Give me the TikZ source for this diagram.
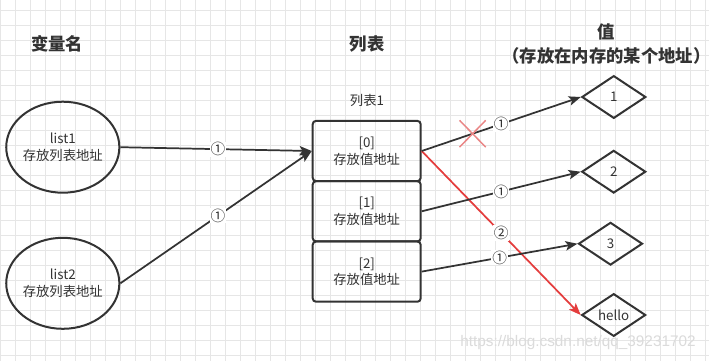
\documentclass[tikz,border=0pt]{standalone}
\usepackage{fontspec}
\setmainfont{Noto Sans CJK SC}
\newfontfamily\wmfont{Liberation Sans}
\usetikzlibrary{shapes.geometric,shapes.misc,arrows.meta}
\definecolor{ink}{HTML}{333333}
\definecolor{gridc}{HTML}{E6E6E6}
\definecolor{redl}{HTML}{E43D3D}
\definecolor{crossc}{HTML}{EA8585}
\begin{document}
\begin{tikzpicture}[x=0.75pt,y=-0.75pt,
  bodyfont/.style={font=\fontsize{10}{12.5}\selectfont,text=ink},
  varbox/.style={ellipse,draw=ink,line width=1.5pt,minimum width=81.75pt,minimum height=68.25pt,inner sep=0pt,align=center,bodyfont},
  cellbox/.style={rectangle,rounded corners=2.5pt,draw=ink,line width=1.5pt,minimum width=81pt,minimum height=45.2pt,inner sep=0pt,align=center,bodyfont},
  valbox/.style={diamond,draw=ink,line width=1.5pt,minimum width=48pt,minimum height=32pt,inner sep=0pt,bodyfont},
  link/.style={draw=ink,line width=1.3pt,-{Stealth[length=9pt,width=7pt,inset=2pt]}},
  redlink/.style={draw=redl,line width=1.3pt,-{Stealth[length=9pt,width=7pt,inset=2pt]}},
  num/.style={fill=white,inner sep=0.6pt,font=\fontsize{11}{12}\selectfont,text=ink},
  title/.style={font=\bfseries\fontsize{13}{18}\selectfont,align=center,text=ink}]
\useasboundingbox (0,0) rectangle (709,361);
\fill[white] (0,0) rectangle (709,361);
% background grid
\foreach \k in {0,...,47} \draw[gridc,line width=0.6pt] (0.7+15*\k,0) -- (0.7+15*\k,361);
\foreach \k in {0,...,23} \draw[gridc,line width=0.6pt] (0,10+15*\k) -- (709,10+15*\k);

% titles
\node[title] (tvar) at (57,44) {变量名};
\node[title] (tlist) at (367,44) {列表};
\node[title] (tval) at (606.5,44) {值\\（存放在内存的某个地址）};
\node[bodyfont] (lname) at (367,100.5) {列表1};

% variables
\node[varbox] (v1) at (62.8,147.2) {list1\\存放列表地址};
\node[varbox] (v2) at (62.8,283.3) {list2\\存放列表地址};

% list cells
\node[cellbox] (c0) at (366.7,151) {[0]\\存放值地址};
\node[cellbox] (c1) at (366.7,211.3) {[1]\\存放值地址};
\node[cellbox] (c2) at (366.7,271.6) {[2]\\存放值地址};

% values
\node[valbox] (d1) at (613.8,97) {1};
\node[valbox] (d2) at (613.7,171.7) {2};
\node[valbox] (d3) at (610.5,243.7) {3};
\node[valbox] (dh) at (613.7,315) {hello};

% connectors
\draw[link] (v1.east) -- node[num,pos=0.51]{①} (c0.west);
\draw[link] (v2.east) -- node[num,pos=0.51]{①} (c0.west);
\draw[redlink] (c0.east) -- node[num,pos=0.5]{②} (dh.west);
\draw[link] (c0.east) -- coordinate[pos=0.32] (xmark) node[num,pos=0.5]{①} (d1.west);
\draw[link] (c1.east) -- node[num,pos=0.5]{①} (d2.west);
\draw[link] (c2.east) -- node[num,pos=0.5]{①} (d3.west);
\node[cross out,draw=crossc,line width=1.1pt,minimum width=18.5pt,minimum height=19pt,inner sep=0pt] (xm) at (xmark) {};

% watermark
\node[font=\wmfont\fontsize{11.5}{12}\selectfont,text=black!14] (wm) at (578,343) {https://blog.csdn.net/qq\_39231702};
\end{tikzpicture}
\end{document}
